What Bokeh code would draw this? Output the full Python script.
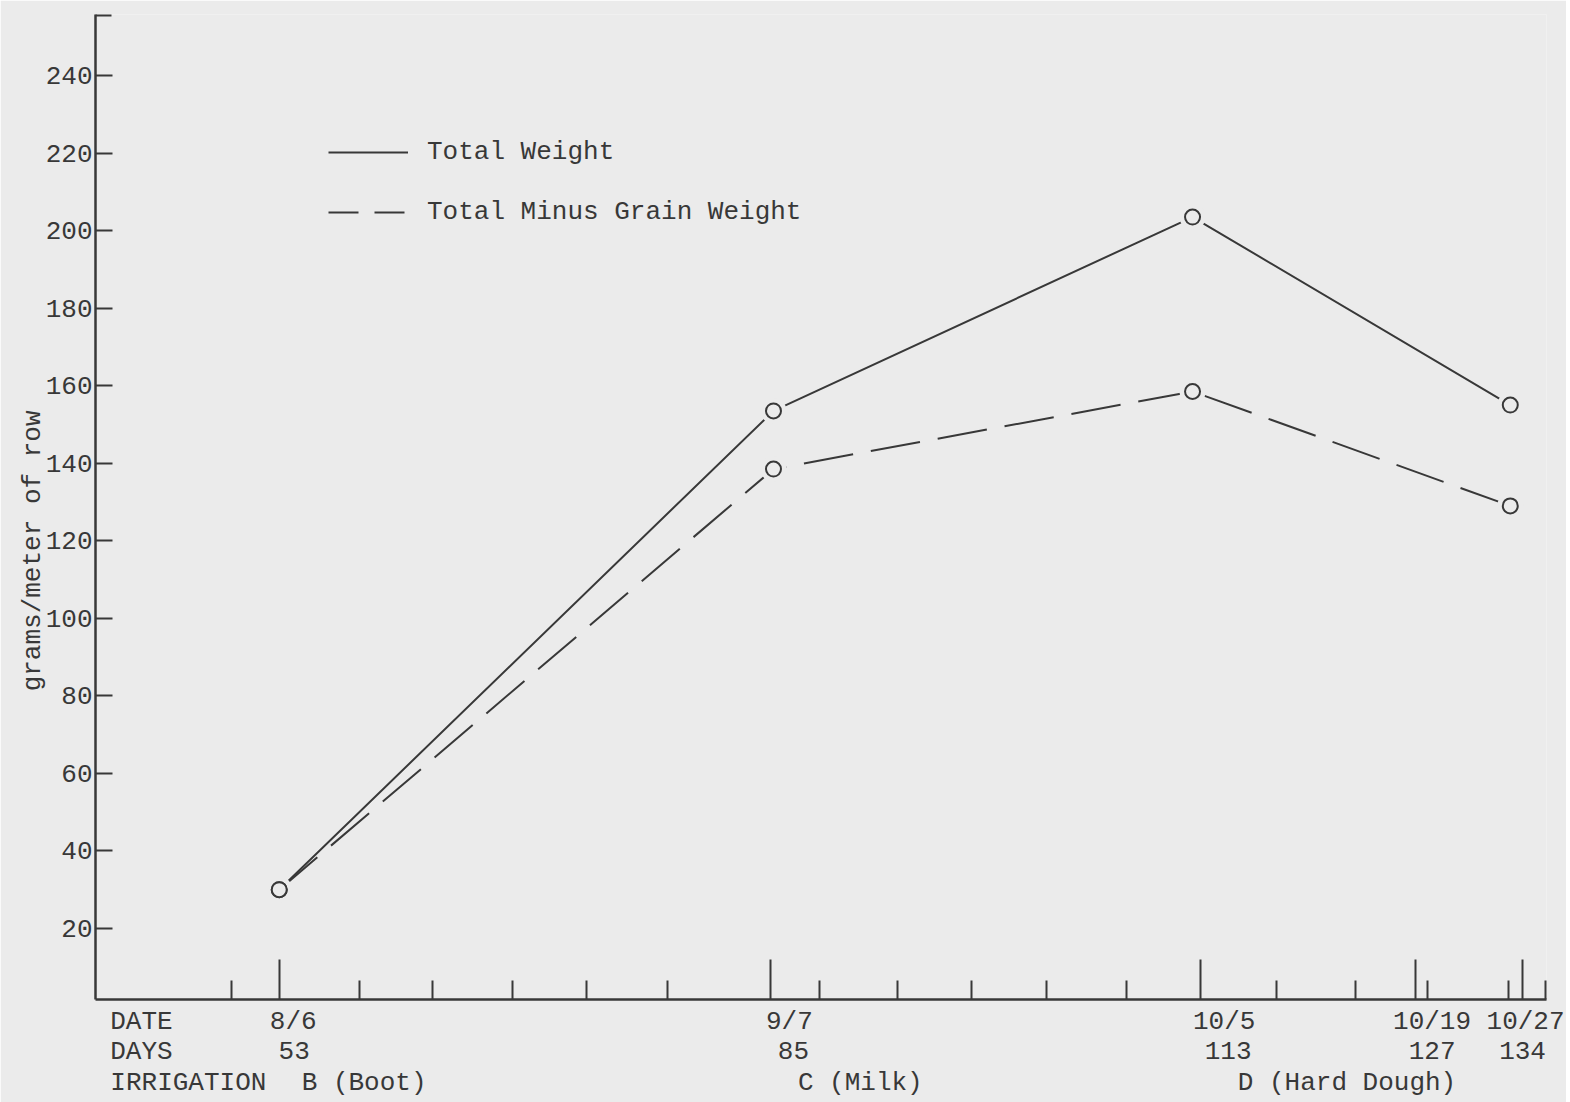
import math
from bokeh.plotting import figure
from bokeh.models import (Range1d, FixedTicker, LinearAxis, ColumnDataSource,
                          Legend, LegendItem)
from bokeh.embed import file_html
from bokeh.resources import INLINE

# ---------------- data ----------------
DAYS_PTS = [53, 85.2, 112.5, 133.2]
TOTAL_WEIGHT = [30, 153.5, 203.5, 155]
TOTAL_MINUS_GRAIN = [30, 138.5, 158.5, 129]

Y_TICKS = [20, 40, 60, 80, 100, 120, 140, 160, 180, 200, 220, 240]
MAJOR_DAYS = [53, 85, 113, 127, 134]
MINOR_DAYS = [49.9, 58.2, 63.0, 68.2, 73.0, 78.3, 88.2, 93.3, 98.1, 103.0,
              108.2, 118.0, 123.1, 127.8, 133.1, 135.5]
DATE_LABELS = ["8/6", "9/7", "10/5", "10/19", "10/27"]
DAY_LABELS = ["53", "85", "113", "127", "134"]
STAGE_DAYS = [53, 85, 113]
STAGE_LABELS = ["B (Boot)", "C (Milk)", "D (Hard Dough)"]
ROW_TITLES = ["DATE", "DAYS", "IRRIGATION"]
SERIES_NAMES = ["Total Weight", "Total Minus Grain Weight"]
Y_TITLE = "grams/meter of row"

# ---------------- layout / style ----------------
BG = "#ebebeb"
INK = "#383838"
FONT = "Liberation Mono"
FS = "26px"

X_START, X_END = 41.03, 135.56
Y_START, Y_END = 1.68, 255.74
FRAME_W, FRAME_H = 1453, 985
PXD = FRAME_W / (X_END - X_START)          # screen px per day

# horizontal offsets (px) of the typed label centres from their tick
DATE_DX = [14, 19, 24, 17, 3]
DAY_DX = [15, 23, 28, 17, 0]
STAGE_DX = [85, 90, 147]
TITLE_DX = [46, 46, 93]                      # from the left end of the axis

p = figure(width=1566, height=1102,
           x_range=Range1d(X_START, X_END), y_range=Range1d(Y_START, Y_END),
           output_backend="svg", toolbar_location=None,
           min_border_left=93, min_border_right=20, min_border_top=14, min_border_bottom=103,
           background_fill_color=BG, border_fill_color=BG, outline_line_color=None)
p.grid.visible = False

# main x axis (ticks only)
xa = p.xaxis[0]
xa.ticker = FixedTicker(ticks=MAJOR_DAYS, minor_ticks=MINOR_DAYS)
xa.major_tick_in = 40
xa.major_tick_out = 0
xa.minor_tick_in = 19
xa.minor_tick_out = 0
xa.major_tick_line_color = INK
xa.minor_tick_line_color = INK
xa.major_tick_line_width = 2
xa.minor_tick_line_width = 2
xa.axis_line_color = INK
xa.axis_line_width = 2.5
xa.major_label_text_color = None
xa.major_label_text_font_size = "1px"
xa.major_label_standoff = 0


def text_axis(positions, labels, standoff):
    pos = [round(v, 4) for v in positions]
    ax = LinearAxis(ticker=FixedTicker(ticks=pos, minor_ticks=[]),
                    major_label_overrides={k: t for k, t in zip(pos, labels)},
                    axis_line_color=None, major_tick_line_color=None,
                    minor_tick_line_color=None, major_tick_in=0, major_tick_out=0,
                    major_label_standoff=standoff,
                    major_label_text_font=FONT, major_label_text_font_size=FS,
                    major_label_text_color=INK)
    return ax


row_date = [X_START + TITLE_DX[0] / PXD] + [d + o / PXD for d, o in zip(MAJOR_DAYS, DATE_DX)]
row_days = [X_START + TITLE_DX[1] / PXD] + [d + o / PXD for d, o in zip(MAJOR_DAYS, DAY_DX)]
row_irr = [X_START + TITLE_DX[2] / PXD] + [d + o / PXD for d, o in zip(STAGE_DAYS, STAGE_DX)]

p.add_layout(text_axis(row_date, [ROW_TITLES[0]] + DATE_LABELS, 7), "below")
p.add_layout(text_axis(row_days, [ROW_TITLES[1]] + DAY_LABELS, -3), "below")
p.add_layout(text_axis(row_irr, [ROW_TITLES[2]] + STAGE_LABELS, -2), "below")

# y axis
ya = p.yaxis[0]
ya.ticker = FixedTicker(ticks=Y_TICKS, minor_ticks=[255.4])
ya.major_tick_in = 17
ya.major_tick_out = 0
ya.minor_tick_in = 16
ya.minor_tick_out = 0
ya.major_tick_line_color = INK
ya.minor_tick_line_color = INK
ya.major_tick_line_width = 2
ya.minor_tick_line_width = 2
ya.axis_line_color = INK
ya.axis_line_width = 2.5
ya.major_label_standoff = 3
ya.major_label_text_font = FONT
ya.major_label_text_font_size = FS
ya.major_label_text_color = INK

# y title (typed off-centre, so carried by its own axis; anchored at its top end)
TITLE_Y = 153.6
ty = text_axis([TITLE_Y], [Y_TITLE], 9)
ty.major_label_orientation = math.pi / 2
p.add_layout(ty, "left")

# series
p.line(DAYS_PTS, TOTAL_WEIGHT, line_color=INK, line_width=2)
p.line(DAYS_PTS, TOTAL_MINUS_GRAIN, line_color=INK, line_width=2, line_dash="50 18")

all_x = DAYS_PTS + DAYS_PTS
all_y = TOTAL_WEIGHT + TOTAL_MINUS_GRAIN
p.scatter(all_x, all_y, size=26, marker="circle", fill_color=BG, line_color=None)
p.scatter(all_x, all_y, size=15, marker="circle", fill_color=BG, line_color=INK, line_width=2)

# legend (swatch renderers carry no visible data)
nan = float("nan")
r1 = p.line(x="x", y="y", source=ColumnDataSource(dict(x=[nan], y=[nan])),
            line_color=INK, line_width=2)
r2 = p.line(x="x", y="y", source=ColumnDataSource(dict(x=[nan], y=[nan])),
            line_color=INK, line_width=2, line_dash="30 16")
legend = Legend(items=[LegendItem(label=SERIES_NAMES[0], renderers=[r1]),
                       LegendItem(label=SERIES_NAMES[1], renderers=[r2])],
                location=(233, 772), orientation="vertical",
                glyph_width=80, glyph_height=30, label_height=30, spacing=30,
                padding=0, margin=0, label_standoff=19,
                border_line_color=None, background_fill_alpha=0,
                label_text_font=FONT, label_text_font_size=FS, label_text_color=INK)
p.add_layout(legend)

open("out.html", "w").write(file_html(p, INLINE))
